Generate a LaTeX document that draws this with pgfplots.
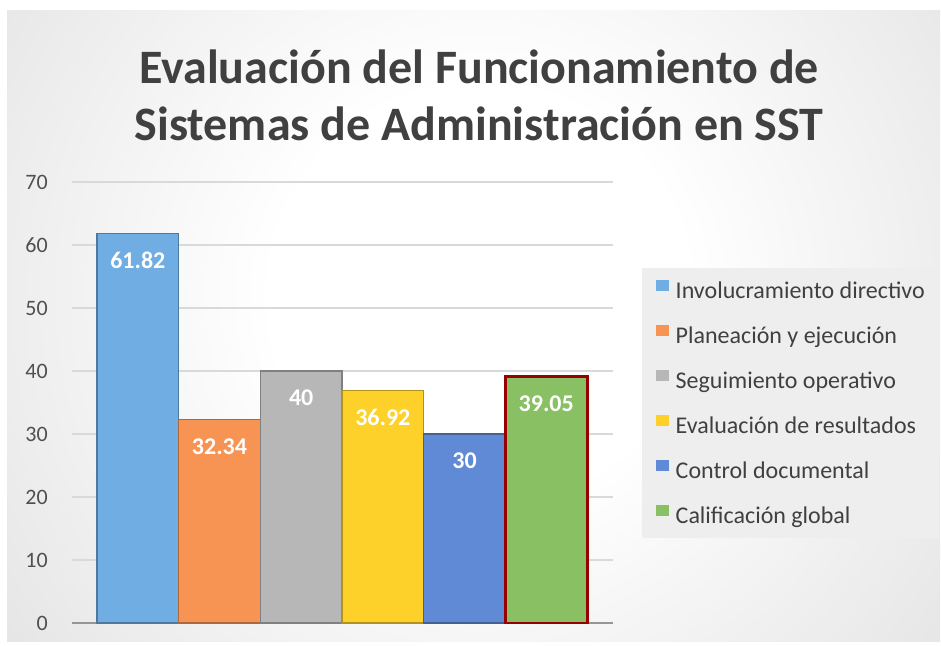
\documentclass[border=0pt]{standalone}
\usepackage{fontspec}
\setmainfont{Carlito}
\usepackage{pgfplots}
\pgfplotsset{compat=1.18}
\definecolor{cA}{RGB}{112,173,226}
\definecolor{cB}{RGB}{247,148,84}
\definecolor{cC}{RGB}{183,183,183}
\definecolor{cD}{RGB}{253,209,41}
\definecolor{cE}{RGB}{96,138,213}
\definecolor{cF}{RGB}{136,192,99}
\definecolor{redborder}{RGB}{150,0,0}
\definecolor{bgout}{RGB}{182,182,182}
\definecolor{gridc}{RGB}{217,217,217}
\definecolor{axisc}{RGB}{150,150,150}
\definecolor{titlec}{RGB}{64,64,64}
\definecolor{tickc}{RGB}{80,80,80}
\definecolor{legfill}{RGB}{238,238,238}
\pgfdeclareradialshading{bgshade}{\pgfpointorigin}{color(0bp)=(white); color(8bp)=(white); color(50bp)=(bgout)}
\begin{document}
\begin{tikzpicture}[x=1pt,y=1pt]
\useasboundingbox (0,0) rectangle (941,645);
\begin{scope}
\clip (7,4) rectangle (940,634);
\shade[shading=bgshade] (480,350) circle (650);
\end{scope}
\begin{axis}[
  at={(72pt,22pt)}, anchor=south west,
  scale only axis, width=541pt, height=441pt,
  xmin=-0.806, xmax=5.818, ymin=0, ymax=70,
  ytick={0,10,...,70}, xtick=\empty,
  /pgf/number format/assume math mode=true,
  axis x line*=bottom, axis y line*=left,
  x axis line style={draw=axisc, line width=1.2pt, -},
  y axis line style={draw=none},
  major tick length=0pt,
  ymajorgrids, grid style={draw=gridc, line width=1.2pt},
  yticklabel style={font=\fontsize{22}{22}\selectfont, color=tickc, anchor=east, inner sep=0pt, xshift=-24pt},
  ybar, bar width=1, bar shift=0pt,
  point meta=explicit symbolic,
  nodes near coords,
  nodes near coords style={anchor=center, yshift=-27pt, font=\bfseries\fontsize{24}{24}\selectfont, text=white, inner sep=0pt},
  title={Evaluación del Funcionamiento de\\Sistemas de Administración en SST},
  title style={at={(0.7523,1)}, anchor=south, align=center, yshift=32pt, font=\bfseries\fontsize{48}{57}\selectfont, text=titlec},
  legend image code/.code={\path (0pt,0pt); \path[#1, draw=none] (5pt,0pt) rectangle (18pt,11pt);},
  legend style={at={(1.0536,0.805)}, anchor=north west, fill=legfill, draw=none,
    inner xsep=7pt, inner ysep=12pt, row sep=24pt,
    font=\fontsize{24}{24}\selectfont, text=titlec,
    nodes={inner ysep=0pt, inner xsep=7pt, text height=17pt, text depth=3pt}},
  legend cell align=left,
]
\addplot[fill=cA, draw=cA!70!black, line width=1.5pt] coordinates {(0,61.82) [61.82]};
\addlegendentry{Involucramiento directivo}
\addplot[fill=cB, draw=cB!70!black, line width=1.5pt] coordinates {(1,32.34) [32.34]};
\addlegendentry{Planeación y ejecución}
\addplot[fill=cC, draw=cC!70!black, line width=1.5pt] coordinates {(2,40) [40]};
\addlegendentry{Seguimiento operativo}
\addplot[fill=cD, draw=cD!70!black, line width=1.5pt] coordinates {(3,36.92) [36.92]};
\addlegendentry{Evaluación de resultados}
\addplot[fill=cE, draw=cE!70!black, line width=1.5pt] coordinates {(4,30) [30]};
\addlegendentry{Control documental}
\addplot[fill=cF, draw=redborder, line width=3pt] coordinates {(5,39.05) [39.05]};
\addlegendentry{Calificación global}
\end{axis}
\end{tikzpicture}
\end{document}
